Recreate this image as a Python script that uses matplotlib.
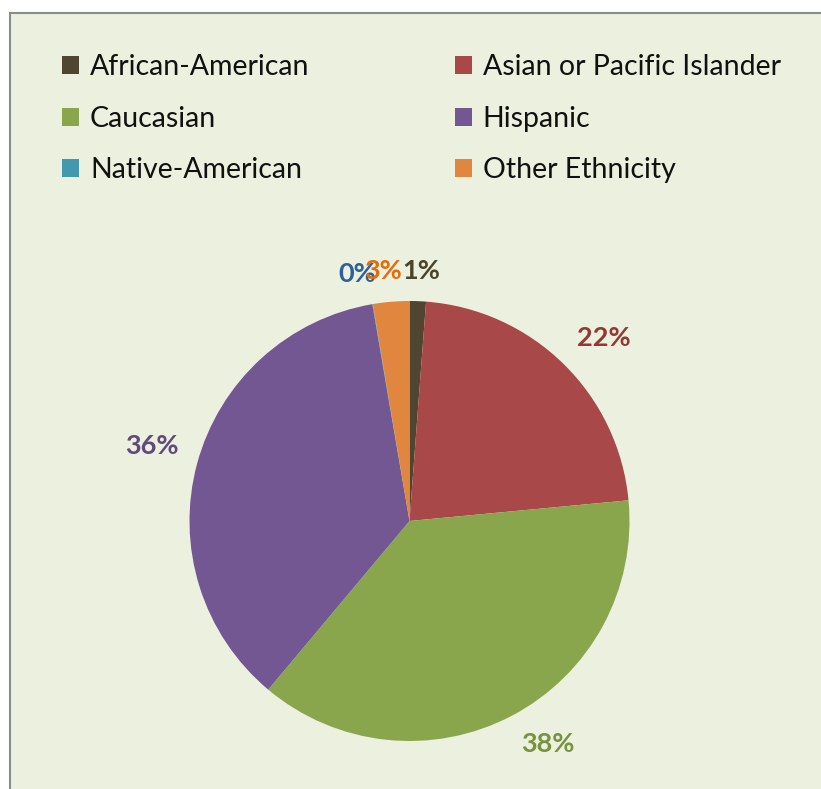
import numpy as np
import matplotlib
matplotlib.use("Agg")
from matplotlib import pyplot as plt
from matplotlib.patches import Rectangle, Patch

# Ethnicity share (percent)
groups = ["African-American", "Asian or Pacific Islander", "Caucasian",
          "Hispanic", "Native-American", "Other Ethnicity"]
shares = [1.2, 22.3, 37.6, 36.2, 0.04, 2.66]
colors = ["#4F4530", "#A84848", "#8AA64D", "#735792", "#4198AF", "#E0863E"]
label_colors = ["#4A452A", "#953735", "#77933C", "#604A7B", "#2E6099", "#E46C0A"]

W, H = 821, 789
fig = plt.figure(figsize=(W / 100, H / 100), dpi=100)
fig.patch.set_facecolor("white")

ax = fig.add_axes([0, 0, 1, 1])
ax.set_xlim(0, W)
ax.set_ylim(0, H)
ax.set_aspect("equal")
ax.axis("off")

# chart area
ax.add_patch(Rectangle((9.5, -5), W, H - 12.5 + 5, facecolor="#EBF1DE",
                       edgecolor="#8C8C8C", linewidth=1.5, zorder=0))

cx, cy, R = 409.5, H - 521, 220
wedges, _ = ax.pie(shares, colors=colors, startangle=90, counterclock=False,
                   center=(cx, cy), radius=R,
                   wedgeprops=dict(linewidth=0))
ax.set_xlim(0, W)
ax.set_ylim(0, H)

# labels: the nearest corner of each label box sits just outside the slice
lab_font = ["Lato", "DejaVu Sans"]
r0 = 1.08 * R
for w, v, c in zip(wedges, shares, label_colors):
    mid = np.deg2rad((w.theta1 + w.theta2) / 2)
    txt = "%d%%" % round(v)
    tw, th = 18.5 * len(txt), 26
    cs, sn = np.cos(mid), np.sin(mid)
    x = cx + r0 * cs + tw / 2 * np.clip(4 * cs, -1, 1)
    y = cy + r0 * sn + th / 2 * np.clip(4 * sn, -1, 1)
    ax.text(x, y, txt, color=c, fontsize=19.5,
            fontweight="bold", family=lab_font, ha="center", va="center")

# legend filled row by row
order = [0, 2, 4, 1, 3, 5]
handles = [Patch(facecolor=colors[i], edgecolor="none") for i in order]
names = [groups[i] for i in order]
leg = ax.legend(handles, names, ncol=2, loc="upper left",
                bbox_to_anchor=(62 / W, 1 - 54 / H), frameon=False,
                prop={"family": lab_font, "size": 20.5},
                borderpad=0, borderaxespad=0,
                handlelength=0.6, handleheight=0.6, handletextpad=0.38,
                columnspacing=5.1, labelspacing=0.9)
for t in leg.get_texts():
    t.set_color("#111111")

fig.savefig("out.png", dpi=100, facecolor="white")
